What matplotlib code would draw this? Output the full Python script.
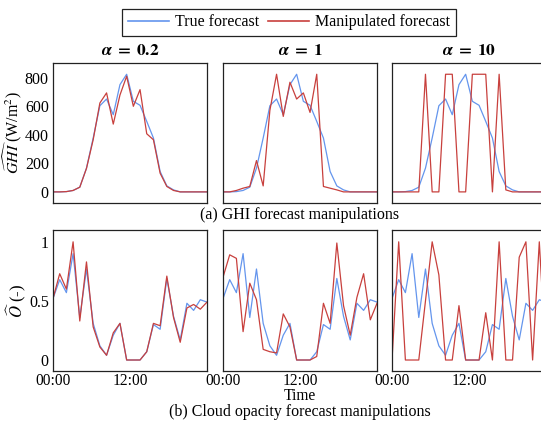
import numpy as np
import matplotlib
matplotlib.use("Agg")
import matplotlib.pyplot as plt
from matplotlib.lines import Line2D

plt.rcParams["font.family"] = ["Liberation Serif", "DejaVu Serif"]
plt.rcParams["mathtext.fontset"] = "stix"
plt.rcParams["font.size"] = 11.5

# Hourly forecast steps across one day
hours = np.linspace(0, 24, 24)
alphas = ["0.2", "1", "10"]

ghi_true = [0, 0, 2, 10, 33, 167, 378, 605, 652, 542, 753, 826,
            636, 608, 495, 378, 143, 42, 14, 0, 0, 0, 0, 0]
ghi_manip = {
    "0.2": [0, 0, 2, 10, 33, 165, 366, 624, 695, 476, 680, 812,
            601, 718, 408, 366, 131, 38, 10, 0, 0, 0, 0, 0],
    "1": [0, 0, 10, 26, 38, 220, 42, 572, 826, 530, 770, 652,
          695, 558, 826, 38, 26, 14, 0, 0, 0, 0, 0, 0],
    "10": [0, 0, 0, 0, 0, 826, 0, 0, 826, 826, 0, 0,
           826, 826, 826, 0, 826, 14, 0, 0, 0, 0, 0, 0],
}

opa_true = [0.52, 0.68, 0.57, 0.90, 0.36, 0.77, 0.31, 0.12, 0.04, 0.21, 0.31, 0,
            0, 0, 0.07, 0.30, 0.26, 0.69, 0.37, 0.17, 0.48, 0.42, 0.51, 0.49]
opa_manip = {
    "0.2": [0.52, 0.73, 0.60, 1.0, 0.33, 0.83, 0.28, 0.11, 0.04, 0.23, 0.31, 0,
            0, 0, 0.07, 0.31, 0.29, 0.71, 0.36, 0.15, 0.44, 0.47, 0.43, 0.49],
    "1": [0.70, 0.89, 0.86, 0.24, 0.65, 0.51, 0.09, 0.07, 0.06, 0.39, 0.28, 0,
          0, 0, 0.03, 0.48, 0.31, 0.99, 0.46, 0.21, 0.53, 0.73, 0.34, 0.48],
    "10": [0, 1, 0, 0, 0, 0.5, 1, 0.72, 0, 0, 0.46, 0,
           0, 0, 0.40, 0, 1, 0, 0, 0.87, 1, 0, 1, 0],
}

ghi_ticks = [0, 200, 400, 600, 800]
opa_ticks = [0, 0.5, 1]
opa_tick_labels = ["0", "0.5", "1"]
time_ticks = [0, 12]
time_labels = ["00:00", "12:00"]

c_true = "#6495ED"
c_manip = "#C8403D"

W, H = 541, 421
fig = plt.figure(figsize=(W / 100, H / 100), dpi=100)

lefts = [53, 223, 392]
pw = 154


def frac_box(x0, y_top, w, h):
    return [x0 / W, 1 - (y_top + h) / H, w / W, h / H]


for j, a in enumerate(alphas):
    ax_t = fig.add_axes(frac_box(lefts[j], 63, pw, 140))
    ax_b = fig.add_axes(frac_box(lefts[j], 230, pw, 141))

    ax_t.plot(hours, ghi_true, color=c_true, lw=0.9)
    ax_t.plot(hours, ghi_manip[a], color=c_manip, lw=0.9)
    ax_b.plot(hours, opa_true, color=c_true, lw=0.9)
    ax_b.plot(hours, opa_manip[a], color=c_manip, lw=0.9)

    ax_t.set_xlim(0, 24)
    ax_t.set_ylim(-78, 905)
    ax_b.set_xlim(0, 24)
    ax_b.set_ylim(-0.093, 1.10)

    ax_t.set_xticks([])
    ax_b.set_xticks(time_ticks)
    ax_b.set_xticklabels(time_labels)

    if j == 0:
        ax_t.set_yticks(ghi_ticks)
        ax_b.set_yticks(opa_ticks)
        ax_b.set_yticklabels(opa_tick_labels)
        ax_t.set_ylabel(r"$\widehat{GHI}$ (W/m$^2$)", labelpad=0.5)
        ax_b.set_ylabel(r"$\widehat{O}$ (-)", labelpad=1, fontsize=12)
    else:
        ax_t.set_yticks([])
        ax_b.set_yticks([])

    for ax in (ax_t, ax_b):
        ax.tick_params(length=0, pad=3)
        for s in ax.spines.values():
            s.set_linewidth(0.9)
            s.set_color("#222222")
    ax_b.tick_params(axis="x", pad=1.5, labelsize=11.2)

    ax_t.set_title(r"$\boldsymbol{\alpha}\;\mathbf{=}\;\mathbf{" + a + "}$",
                   pad=6, fontsize=12.5)

    if j == 1:
        ax_b.set_xlabel("Time", labelpad=-0.5, fontsize=11.2)

fig.text(299.5 / W, 1 - 412 / H, "(b) Cloud opacity forecast manipulations",
         ha="center", va="center")
fig.text(299.5 / W, 1 - 215 / H, "(a) GHI forecast manipulations",
         ha="center", va="center")

handles = [Line2D([], [], color=c_true, lw=1.2),
           Line2D([], [], color=c_manip, lw=1.2)]
fig.legend(handles, ["True forecast", "Manipulated forecast"], ncol=2,
           loc="center", bbox_to_anchor=(289 / W, 1 - 22.5 / H),
           frameon=True, fancybox=False, edgecolor="#222222",
           handlelength=2.6, handletextpad=0.4, columnspacing=0.5,
           borderpad=0.35, framealpha=1)
fig.legends[0].get_frame().set_linewidth(0.9)

fig.savefig("out.png", dpi=100)
